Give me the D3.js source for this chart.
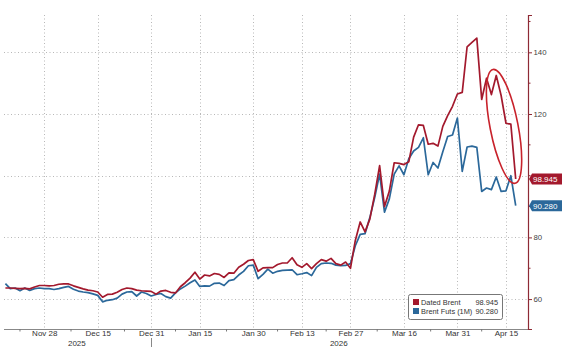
<!DOCTYPE html>
<html><head><meta charset="utf-8">
<script src="https://cdn.jsdelivr.net/npm/d3@7"></script>
<style>
html,body{margin:0;padding:0;background:#fff;}
svg{display:block;font-family:"Liberation Sans",Arial,sans-serif;}
</style></head>
<body><svg id="c" width="562" height="355"></svg>
<script>
// Trading-day index series (Nov 18, 2025 .. Apr 17, 2026)
const datedBrent = [
63.6,63.6,63.5,63.4,63.5,63.3,63.9,64.4,64.4,64.3,
64.4,64.8,64.9,64.9,64.3,63.8,63.3,62.9,62.7,62.3,
60.6,61.5,61.6,62.2,63.1,63.6,63.4,62.9,62.7,62.6,
62.5,61.6,62.6,62.8,62.2,62.0,64.0,65.3,66.8,68.7,
66.5,67.8,67.5,68.3,68.0,67.0,68.5,68.4,70.3,71.3,
72.5,72.8,69.0,70.1,70.2,70.2,71.2,71.7,71.7,73.4,
71.1,70.3,71.5,69.9,71.5,72.8,72.3,73.2,71.5,71.0,
72.0,70.0,79.0,85.0,81.8,86.0,94.0,103.3,90.0,95.0,
104.2,104.0,103.6,104.5,112.5,116.5,116.3,110.2,110.5,109.6,
116.0,119.5,122.5,126.5,127.0,141.8,143.2,144.6,124.7,131.6,
126.3,132.5,126.0,117.0,116.7,98.945
];
const brentFuts = [
65.0,63.4,63.6,62.7,63.6,62.8,63.4,63.6,63.4,63.4,
63.1,63.4,63.8,64.1,63.2,62.6,62.3,62.1,61.7,61.2,
59.1,59.6,59.8,60.3,61.6,62.3,62.4,61.0,62.3,61.8,
61.0,61.5,61.8,60.8,60.3,62.0,63.3,64.2,65.3,66.2,
64.1,64.3,64.2,65.1,65.2,64.4,66.0,66.3,67.8,69.0,
70.8,71.0,66.6,68.0,69.7,68.4,69.0,69.3,69.4,69.5,
67.9,68.2,68.6,67.6,70.3,71.5,71.7,71.6,71.0,70.8,
70.9,71.5,77.3,81.0,81.2,86.5,93.0,100.5,88.2,92.5,
100.5,103.2,100.3,105.5,108.0,109.2,112.3,100.3,104.3,102.5,
107.8,112.7,113.2,118.7,101.4,109.3,109.6,109.2,94.9,96.0,
95.5,99.6,94.9,95.1,100.0,90.28
];
const seriesNames = ["Dated Brent", "Brent Futs (1M)"];
const lastValues = ["98.945", "90.280"];
const xTickIndex = [8,19,30,40,51,61,71,82,93,103];
const xTickLabels = ["Nov 28","Dec 15","Dec 31","Jan 15","Jan 30","Feb 13","Feb 27","Mar 16","Mar 31","Apr 15"];
const yearLabels = ["2025","2026"];
const yearIndex = [14.7,68.6];
const yGrid = [60,80,100,120,140];
const yLabelTicks = [60,80,120,140];
const yMinorTicks = [70,90,100,110,130,150];

const colors = ["#a3192d","#2b689a"];
const L = 4, R = 528, T = 15, B = 329;

const svg = d3.select("#c");
const x = d3.scaleLinear().domain([0, datedBrent.length - 1]).range([5.4, 515.7]);
const y = d3.scaleLinear().domain([50.3, 152.1]).range([B, T]);

// gridlines
const grid = svg.append("g").attr("stroke","#b8b8b8").attr("stroke-width",1).attr("stroke-dasharray","1,2.5");
grid.selectAll("line.h").data(yGrid).join("line").attr("class","h")
  .attr("x1",L).attr("x2",R).attr("y1",d=>Math.round(y(d))+0.5).attr("y2",d=>Math.round(y(d))+0.5);
grid.selectAll("line.v").data(xTickIndex).join("line").attr("class","v")
  .attr("x1",d=>Math.round(x(d))+0.5).attr("x2",d=>Math.round(x(d))+0.5).attr("y1",T).attr("y2",B);

// bottom axis
const xAxis = d3.axisBottom(x).tickValues(xTickIndex).tickFormat((d,i)=>xTickLabels[i]).tickSize(0).tickPadding(1);
const gx = svg.append("g").attr("transform",`translate(0,${B})`).call(xAxis);
gx.select(".domain").remove();
gx.selectAll(".tick text").attr("fill","#333").attr("font-size","8px")
  .attr("font-family","Liberation Sans, Arial, sans-serif");
svg.append("line").attr("x1",L).attr("x2",R).attr("y1",B+0.5).attr("y2",B+0.5).attr("stroke","#888").attr("stroke-width",1.2);
// minor ticks midway
const mids = [3].concat(xTickIndex.slice(1).map((d,i)=>(d+xTickIndex[i])/2));
svg.append("g").selectAll("line").data(mids).join("line")
  .attr("x1",d=>x(d)).attr("x2",d=>x(d)).attr("y1",B).attr("y2",B+2.5).attr("stroke","#777");
// year labels
svg.append("g").selectAll("text").data(yearLabels).join("text")
  .attr("x",(d,i)=>x(yearIndex[i])).attr("y",345.5).attr("text-anchor","middle")
  .attr("font-size","8px").attr("fill","#333").text(d=>d);
svg.append("line").attr("x1",Math.round(x(30))+0.5).attr("x2",Math.round(x(30))+0.5)
  .attr("y1",338).attr("y2",347).attr("stroke","#888");

// right axis
const yAxis = d3.axisRight(y).tickValues(yLabelTicks).tickFormat(d3.format("d")).tickSize(4).tickPadding(1.5);
const gy = svg.append("g").attr("transform",`translate(${R},0)`).call(yAxis);
gy.select(".domain").attr("stroke","#8e2a35").attr("stroke-width",1.2);
gy.selectAll(".tick line").attr("stroke","#8e2a35");
gy.selectAll(".tick text").attr("fill","#444").attr("font-size","7.8px");
svg.append("g").selectAll("line").data(yMinorTicks).join("line")
  .attr("x1",R).attr("x2",R+2.5).attr("y1",d=>y(d)).attr("y2",d=>y(d)).attr("stroke","#8e2a35");

// lines
const line = d3.line().x((d,i)=>x(i)).y(d=>y(d));
[brentFuts, datedBrent].forEach((s,k)=>{
  const ci = k===0 ? 1 : 0;
  svg.append("path").datum(s).attr("d",line).attr("fill","none")
    .attr("stroke",colors[ci]).attr("stroke-width",1.7).attr("stroke-linejoin","round");
});

// ellipse annotation
const ex = x(102.6), ey = y(116);
svg.append("ellipse").attr("cx",ex).attr("cy",ey).attr("rx",58).attr("ry",14)
  .attr("transform",`rotate(79,${ex},${ey})`)
  .attr("fill","none").attr("stroke","#c8222b").attr("stroke-width",1.6);

// value badges
[datedBrent, brentFuts].forEach((s,k)=>{
  const v = s[s.length-1], yy = y(v);
  const g = svg.append("g");
  g.append("path").attr("d",`M${R+1},${yy} L${R+4},${yy-5.5} L562,${yy-5.5} L562,${yy+5.5} L${R+4},${yy+5.5} Z`)
    .attr("fill",colors[k]);
  g.append("text").attr("x",R+5).attr("y",yy+3).attr("fill","#fff").attr("font-size","8px").text(lastValues[k]);
});

// legend
const lg = svg.append("g");
lg.append("rect").attr("x",408.5).attr("y",294.5).attr("width",94).attr("height",25).attr("rx",2)
  .attr("fill","#fff").attr("stroke","#777");
seriesNames.forEach((n,k)=>{
  const yy = 302.5 + k*9;
  lg.append("rect").attr("x",413).attr("y",yy-3.5).attr("width",6).attr("height",6).attr("fill",colors[k]);
  lg.append("text").attr("x",421).attr("y",yy+2.8).attr("font-size","7.4px").attr("fill","#333").text(n);
  lg.append("text").attr("x",498).attr("y",yy+2.8).attr("font-size","7.4px").attr("fill","#333").attr("text-anchor","end").text(lastValues[k]);
});
</script></body></html>
